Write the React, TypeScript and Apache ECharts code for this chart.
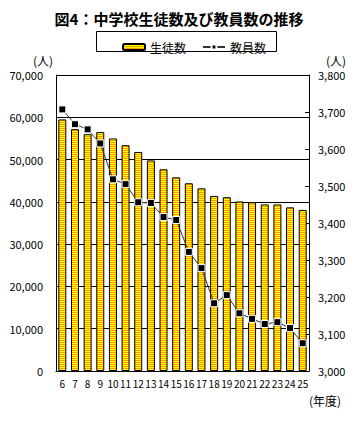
import React, { useEffect, useRef } from "react";
import * as echarts from "echarts";

const years = ["6","7","8","9","10","11","12","13","14","15","16","17","18","19","20","21","22","23","24","25"];
const students = [59500,57200,56000,56500,55000,53400,51800,49800,47700,45800,44400,43200,41400,41100,40100,39900,39400,39400,38700,38100];
const teachers = [3707,3667,3653,3615,3518,3505,3456,3454,3416,3408,3322,3278,3183,3205,3156,3141,3127,3132,3116,3075];
const leftTicks = { min: 0, max: 70000, interval: 10000 };
const rightTicks = { min: 3000, max: 3800, interval: 100 };

const FONT = "'Noto Sans CJK JP', 'Noto Sans', sans-serif";

function makePattern() {
  const c = document.createElement("canvas");
  c.width = 4;
  c.height = 2;
  const ctx = c.getContext("2d")!;
  ctx.fillStyle = "#FF9900";
  ctx.fillRect(0, 0, 4, 1);
  ctx.fillStyle = "#FFFF00";
  ctx.fillRect(0, 1, 4, 1);
  return { image: c, repeat: "repeat" as const };
}

const fmt = (v: number) => v.toLocaleString("en-US");

export default function App() {
  const ref = useRef<HTMLDivElement>(null);
  useEffect(() => {
    if (!ref.current) return;
    const chart = echarts.init(ref.current, null, { renderer: "svg" });
    const pattern = makePattern();
    chart.setOption({
      animation: false,
      backgroundColor: "#fff",
      textStyle: { fontFamily: FONT, color: "#000" },
      title: {
        text: "図4：中学校生徒数及び教員数の推移",
        left: "center",
        top: 6,
        textStyle: { fontFamily: FONT, fontSize: 15, fontWeight: "bold", color: "#000" },
      },
      legend: {
        left: 117,
        top: 36,
        itemWidth: 22,
        itemHeight: 6,
        itemGap: 16,
        textStyle: { fontFamily: FONT, fontSize: 12, color: "#000" },
        data: ["生徒数", "教員数"],
      },
      graphic: [
        { type: "rect", shape: { x: 96.5, y: 31.5, width: 180, height: 20 }, style: { fill: "none", stroke: "#000", lineWidth: 1 } },
        { type: "text", x: 33, y: 54, style: { text: "(人)", font: `12px ${FONT}`, fill: "#000" } },
        { type: "text", x: 326, y: 54, style: { text: "(人)", font: `12px ${FONT}`, fill: "#000" } },
        { type: "text", x: 309, y: 394, style: { text: "(年度)", font: `12px ${FONT}`, fill: "#000" } },
      ],
      grid: { left: 56, right: 49, top: 75, bottom: 59 },
      xAxis: {
        type: "category",
        data: years,
        axisLine: { lineStyle: { color: "#000", width: 1 } },
        axisTick: { inside: true, length: 4, lineStyle: { color: "#000" } },
        axisLabel: { interval: 0, fontSize: 10, color: "#000", margin: 7, fontFamily: FONT },
      },
      yAxis: [
        {
          type: "value",
          ...leftTicks,
          axisLine: { show: true, lineStyle: { color: "#000" } },
          axisTick: { show: false },
          splitLine: { show: true, lineStyle: { color: "#000", width: 1 } },
          axisLabel: { fontSize: 11, color: "#000", margin: 13, formatter: fmt, fontFamily: FONT },
        },
        {
          type: "value",
          ...rightTicks,
          position: "right",
          axisLine: { show: true, lineStyle: { color: "#000" } },
          axisTick: { show: true, inside: true, length: 4, lineStyle: { color: "#000" } },
          splitLine: { show: false },
          axisLabel: { fontSize: 11, color: "#000", margin: 9, formatter: fmt, fontFamily: FONT },
        },
      ],
      series: [
        {
          name: "生徒数",
          type: "bar",
          data: students,
          barWidth: 8,
          itemStyle: { color: pattern, borderColor: "#000", borderWidth: 1 },
          z: 2,
        },
        {
          name: "教員数",
          type: "line",
          yAxisIndex: 1,
          data: teachers,
          symbol: "rect",
          symbolSize: 7,
          lineStyle: { color: "#333", width: 1 },
          itemStyle: { color: "#000", borderColor: "#fff", borderWidth: 1 },
          z: 3,
        },
      ],
    });
    return () => chart.dispose();
  }, []);
  return <div ref={ref} style={{ width: 358, height: 430, margin: -8 }} />;
}
